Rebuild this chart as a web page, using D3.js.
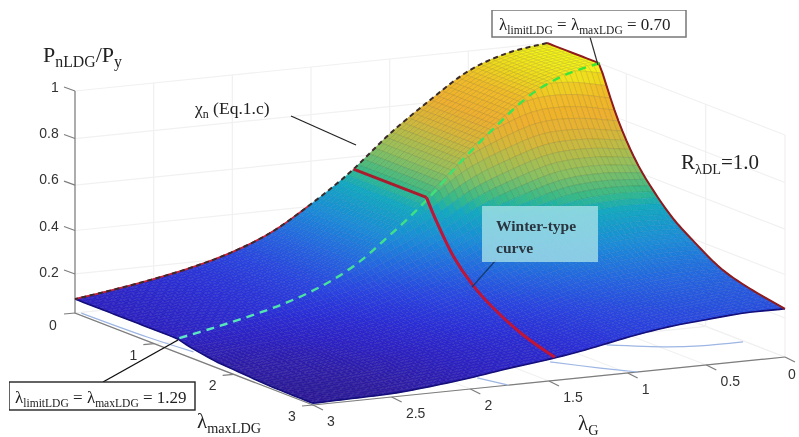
<!DOCTYPE html>
<html><head><meta charset="utf-8">
<script src="https://cdn.jsdelivr.net/npm/d3@7/dist/d3.min.js"></script>
<style>html,body{margin:0;background:#fff;overflow:hidden}svg{display:block}</style></head>
<body><svg id="c" width="799" height="437"></svg>
<script>
// Values
const gTicks=[0,0.5,1,1.5,2,2.5,3];
const mTicks=[1,2,3];
const zTicks=[0,0.2,0.4,0.6,0.8,1];
const gRead=[0,0.25,0.5,0.75,1,1.25,1.5,1.75,2,2.25,2.5,2.75,3];
// lambda_maxLDG where the surface starts to fall, per gRead
const ridgeM=[0.66,0.72,0.78,0.84,0.90,0.95,1.00,1.06,1.12,1.17,1.21,1.25,1.29];
// fraction of the way from the ridge to lambda_maxLDG = 3, per table column
const tailT=[0,0.1,0.2,0.3,0.4,0.5,0.65,0.8,1];
// P/Py read at gRead (rows) and tailT (columns)
const zTable=[
[1.000,.793,.642,.538,.455,.395,.317,.276,.243],
[.975,.778,.633,.529,.451,.390,.317,.274,.243],
[.916,.735,.598,.499,.425,.369,.300,.261,.230],
[.807,.648,.528,.442,.377,.330,.271,.239,.213],
[.683,.548,.445,.372,.318,.280,.233,.207,.184],
[.535,.430,.352,.295,.254,.223,.184,.163,.147],
[.411,.334,.278,.236,.205,.181,.150,.128,.116],
[.302,.247,.208,.176,.154,.137,.113,.100,.092],
[.228,.184,.153,.129,.111,.097,.079,.071,.063],
[.176,.142,.113,.095,.079,.068,.053,.045,.039],
[.137,.105,.082,.066,.053,.045,.032,.026,.021],
[.105,.079,.063,.050,.039,.034,.024,.018,.016],
[.077,.058,.045,.034,.029,.024,.016,.013,.011]];
const winterG=[1.23,1.23,1.25,1.277,1.31,1.348,1.40,1.458];
const winterM=[0,0.92,1.09,1.35,1.655,1.99,2.48,2.99];
const floorCurves=[
 {g:[0.74,0.46,0.283,0.015],m:[2.22,2.43,2.49,2.50]},
 {g:[1.246,1.073,0.936],m:[2.51,2.80,3.0]},
 {g:[1.82,1.76],m:[2.73,2.99]},
 {g:[2.97,2.95,2.91],m:[0.02,0.81,1.315]}];
const colorZ=[0,0.03,0.08,0.15,0.22,0.3,0.4,0.5,0.55,0.63,0.7,0.75,0.82,0.9,0.95,1];
const colorC=["#2a1890","#301fa8","#2e22c4","#2c30d8","#2a45e0","#2565e0","#1c8cd8","#12a8c0","#36ba88","#8cc060","#b8bc48","#d8b638","#eeb02e","#f0bc28","#efd91c","#f8f81a"];

// Scales: the floor is a flat shear of the two horizontal axes
const gx=d3.scaleLinear([0,3],[0,-472]), gy=d3.scaleLinear([0,3],[0,48]);
const mx=d3.scaleLinear([0,3],[547,785]), my=d3.scaleLinear([0,3],[265,357]);
const zh=d3.scalePow().exponent(1.08).domain([0,1]).range([0,222]);
const color=d3.scaleLinear(colorZ,colorC).clamp(true);
const P=(g,m,z=0)=>[mx(m)+gx(g),my(m)+gy(g)-zh(Math.max(0,z))];

// Drawing helper: smooth curve through the read values, only to draw a fine mesh between them
function herm(xs,ys,x){const n=xs.length-1;let i=d3.bisectRight(xs,x)-1;i=Math.max(0,Math.min(n-1,i));
 const h=xs[i+1]-xs[i],f=(x-xs[i])/h;
 const tan=k=>k===0?(ys[1]-ys[0])/(xs[1]-xs[0]):k===n?(ys[n]-ys[n-1])/(xs[n]-xs[n-1]):(ys[k+1]-ys[k-1])/(xs[k+1]-xs[k-1]);
 const f2=f*f,f3=f2*f;
 return (2*f3-3*f2+1)*ys[i]+(f3-2*f2+f)*h*tan(i)+(-2*f3+3*f2)*ys[i+1]+(f3-f2)*h*tan(i+1);}
const ridge=g=>herm(gRead,ridgeM,g);
function surf(g,m){const r=ridge(g),t=m<=r?0:(m-r)/(3-r);
 return Math.min(1,herm(gRead,zTable.map(row=>herm(tailT,row,t)),g));}

const svg=d3.select("#c");
const defs=svg.append("defs");
defs.append("filter").attr("id","soft").attr("x",0).attr("y",0).attr("width",1).attr("height",1)
 .append("feGaussianBlur").attr("stdDeviation",0.45);
const gr=defs.append("linearGradient").attr("id","gd").attr("gradientUnits","userSpaceOnUse")
 .attr("x1",180).attr("x2",600).attr("y1",0).attr("y2",0);
gr.append("stop").attr("offset",0).attr("stop-color","#5fe8c8");
gr.append("stop").attr("offset",.5).attr("stop-color","#3fe08c");
gr.append("stop").attr("offset",1).attr("stop-color","#3ce62a");
const root=svg.append("g").attr("filter","url(#soft)");
const line=d3.line();
const curve=d3.line().curve(d3.curveCatmullRom);

// Walls and floor grid
const grid=root.append("g").attr("fill","none").attr("stroke","#f1f1f1").attr("stroke-width",1.2);
zTicks.forEach(z=>{grid.append("path").attr("d",line([P(3,0,z),P(0,0,z),P(0,3,z)]));});
gTicks.forEach(g=>{grid.append("path").attr("d",line([P(g,3),P(g,0),P(g,0,1)]));});
[0,...mTicks].forEach(m=>{grid.append("path").attr("d",line([P(3,m),P(0,m),P(0,m,1)]));});

// Axes
const ax=root.append("g").attr("fill","none").attr("stroke","#7d7d7d").attr("stroke-width",1.2);
ax.append("path").attr("d",line([P(3,0,1),P(3,0),P(3,3),P(0,3)]));
gTicks.forEach(g=>{const p=P(g,3);ax.append("path").attr("d",line([p,[p[0]+10,p[1]+5]]));});
mTicks.forEach(m=>{const p=P(3,m);ax.append("path").attr("d",line([p,[p[0]-11,p[1]+1]]));});
zTicks.forEach(z=>{const p=P(3,0,z);ax.append("path").attr("d",line([p,[p[0]-11,p[1]+(z===0?1:-4)]]));});

// Floor shadow curves
root.append("g").attr("fill","none").attr("stroke","#9db6e4").attr("stroke-width",1.2)
 .selectAll("path").data(floorCurves).join("path")
 .attr("d",c=>curve(c.g.map((g,i)=>P(g,c.m[i]))));

// Surface
const NG=85,NM=60, gs=d3.range(NG+1).map(i=>3*i/NG), ms=d3.range(NM+1).map(i=>3*i/NM);
const Z=gs.map(g=>ms.map(m=>surf(g,m)));
const quads=[];
for(let j=0;j<NM;j++)for(let i=0;i<NG;i++){quads.push({i,j,z:(Z[i][j]+Z[i+1][j]+Z[i][j+1]+Z[i+1][j+1])/4});}
root.append("g").selectAll("path").data(quads).join("path")
 .attr("d",q=>line([P(gs[q.i],ms[q.j],Z[q.i][q.j]),P(gs[q.i+1],ms[q.j],Z[q.i+1][q.j]),
   P(gs[q.i+1],ms[q.j+1],Z[q.i+1][q.j+1]),P(gs[q.i],ms[q.j+1],Z[q.i][q.j+1])])+"Z")
 .attr("fill",q=>color(q.z))
 .attr("stroke",q=>d3.color(color(q.z)).darker(q.z>0.55?0.7:0.25))
 .attr("stroke-width",0.42);

// Surface edges
const lines=root.append("g").attr("fill","none");
lines.append("path").attr("d",line(gs.map((g,i)=>P(g,3,Z[i][NM])))).attr("stroke","#12107a").attr("stroke-width",1.6);
lines.append("path").attr("d",line(ms.map((m,j)=>P(3,m,Z[NG][j])))).attr("stroke","#12107a").attr("stroke-width",1.6);
const lowerBack=gs.map((g,i)=>[g,Z[i][0]]).filter(d=>d[0]>=1.5);
lines.append("path").attr("d",line(lowerBack.map(d=>P(d[0],0,d[1])))).attr("stroke","#c8203a").attr("stroke-width",1.8);
lines.append("path").attr("d",line(gs.map((g,i)=>P(g,0,Z[i][0])))).attr("stroke","#3a2a2a").attr("stroke-width",2).attr("stroke-dasharray","5 3.5");
lines.append("path").attr("d",line(ms.map((m,j)=>P(0,m,Z[0][j])))).attr("stroke","#8e1a1e").attr("stroke-width",2);
lines.append("path").attr("d",curve(gRead.map((g,i)=>P(g,ridgeM[i],zTable[i][0]))))
 .attr("stroke","url(#gd)").attr("stroke-width",2.4).attr("stroke-dasharray","8 6");
lines.append("path").attr("d",line(winterM.slice(0,2).map((m,i)=>P(winterG[i],m,surf(winterG[i],m)))))
 .attr("stroke","#a81c2e").attr("stroke-width",3);
lines.append("path").attr("d",curve(winterM.slice(1).map((m,i)=>P(winterG[i+1],m,surf(winterG[i+1],m)))))
 .attr("stroke","#bf1238").attr("stroke-width",3);

// Text
const SERIF="'Liberation Serif','Times New Roman',serif", SANS="'Liberation Sans',Arial,sans-serif";
const T=root.append("g");
const tick=(x,y,s)=>T.append("text").attr("x",x).attr("y",y).attr("text-anchor","middle")
 .attr("font-family",SANS).attr("font-size",14).attr("fill","#333").text(s);
zTicks.forEach(z=>{const s=String(z);tick(s.length>1?49:(z===1?55:53),z===0?330:(z===1?92:d3.scaleLinear([0.2,0.8],[277,138])(z)),s);});
mTicks.forEach(m=>{const p=P(3,m);tick(p[0]-21,p[1]+16,String(m));});
gTicks.forEach(g=>{const p=P(g,3),s=String(g);
 if(g===0) tick(792,379,s); else tick(p[0]+(s.length>1?24:18),p[1]+21,s);});

function rich(x,y,parts,size,subK=0.68){const t=T.append("text").attr("x",x).attr("y",y)
 .attr("font-family",SERIF).attr("font-size",size).attr("fill","#222");
 let down=false;
 parts.forEach(([s,sub])=>{const ts=t.append("tspan").text(s);
  if(sub){ts.attr("font-size",size*subK);if(!down){ts.attr("dy",size*0.22);down=true;}}
  else if(down){ts.attr("dy",-size*0.22);down=false;}});
 return t;}
rich(43,62,[["P"],["nLDG",1],["/P"],["y",1]],22,0.72);
rich(195,114,[["χ"],["n",1],[" (Eq.1.c)"]],17.5);
rich(681,169,[["R"],["λDL",1],["=1.0"]],21);
rich(197,428,[["λ"],["maxLDG",1]],21);
rich(578,430,[["λ"],["G",1]],21);

const boxes=T.append("g");
boxes.append("path").attr("d",line([[291,116],[356,145]])).attr("stroke","#222").attr("stroke-width",1.2);
boxes.append("path").attr("d",line([[590,37],[598,65]])).attr("stroke","#333").attr("stroke-width",1.2);
boxes.append("path").attr("d",line([[103,382],[178,340]])).attr("stroke","#111").attr("stroke-width",1.4);
boxes.append("path").attr("d",line([[496,260],[472,287]])).attr("stroke","#123a6e").attr("stroke-width",1.2);
boxes.append("rect").attr("x",492).attr("y",10).attr("width",194).attr("height",27).attr("fill","#fff").attr("stroke","#777").attr("stroke-width",1.5);
boxes.append("rect").attr("x",9).attr("y",382).attr("width",186).attr("height",28).attr("fill","#fff").attr("stroke","#222").attr("stroke-width",1.4);
boxes.append("rect").attr("x",482).attr("y",206).attr("width",116).attr("height",56).attr("fill","#a8e2e8").attr("fill-opacity",0.78);
rich(499,30,[["λ"],["limitLDG",1],[" = λ"],["maxLDG",1],[" = 0.70"]],17);
rich(15,403,[["λ"],["limitLDG",1],[" = λ"],["maxLDG",1],[" = 1.29"]],17);
rich(496,231,[["Winter-type"]],15.5).attr("font-weight",700).attr("fill","#2a3440");
rich(496,253,[["curve"]],15.5).attr("font-weight",700).attr("fill","#2a3440");
</script></body></html>
